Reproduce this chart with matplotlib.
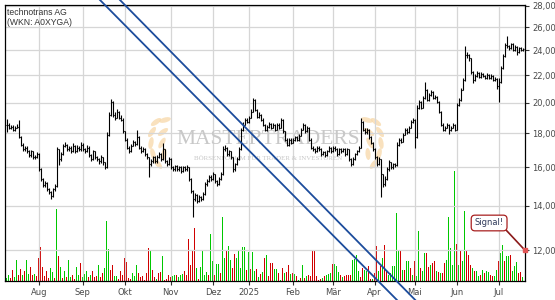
import numpy as np
import pandas as pd
import matplotlib
matplotlib.use("Agg")
import matplotlib.pyplot as plt
from matplotlib.transforms import blended_transform_factory, IdentityTransform
from matplotlib.ticker import NullLocator
from matplotlib.patches import Ellipse

# ---------------- data ----------------
start_date = "2024-07-10"
end_date = "2025-07-17"
holidays = ["2024-12-24", "2024-12-25", "2024-12-26", "2024-12-31",
            "2025-01-01", "2025-04-18", "2025-04-21", "2025-05-01"]

close = [
    18.55, 18.36, 18.42, 18.23, 18.36, 18.42, 17.74, 17.31, 17.02, 17.13,
    16.90, 16.67, 16.90, 16.56, 16.56, 16.73, 15.88, 15.35, 15.03, 15.14,
    14.83, 14.68, 14.48, 14.83, 14.98, 17.02, 16.44, 16.73, 17.25, 17.31,
    17.02, 17.13, 16.90, 17.25, 16.90, 17.13, 17.02, 17.31, 17.02, 16.90,
    17.13, 16.67, 16.44, 16.90, 16.56, 16.44, 16.33, 16.56, 16.27, 15.99,
    17.92, 19.20, 20.08, 19.20, 19.00, 19.40, 19.00, 18.87, 18.11, 17.61,
    17.13, 16.90, 17.25, 17.49, 17.37, 17.74, 17.13, 16.90, 17.02, 16.73,
    16.56, 16.16, 16.33, 16.56, 16.33, 16.56, 16.73, 16.44, 17.02, 16.33,
    16.16, 16.44, 15.99, 15.88, 16.05, 15.88, 15.99, 15.77, 15.99, 15.88,
    15.99, 15.35, 14.73, 14.33, 14.52, 14.23, 14.43, 14.33, 14.57, 15.08,
    15.24, 15.45, 15.35, 15.61, 15.24, 15.08, 15.35, 15.61, 17.02, 17.13,
    16.73, 16.90, 16.56, 15.88, 16.16, 16.44, 17.02, 18.23, 18.55, 18.87,
    18.74, 19.00, 19.40, 20.22, 19.53, 19.07, 19.20, 18.87, 18.55, 18.23,
    18.42, 18.61, 18.36, 18.55, 18.23, 18.55, 18.36, 18.87, 18.11, 17.61,
    17.31, 17.61, 17.43, 17.61, 17.74, 17.61, 17.86, 18.23, 18.55, 18.11,
    18.36, 17.61, 17.13, 17.02, 16.90, 17.13, 17.02, 16.73, 16.84, 16.67,
    16.90, 17.13, 16.90, 17.13, 17.02, 16.73, 17.02, 16.90, 17.02, 16.73,
    17.02, 16.44, 16.16, 16.44, 16.73, 16.90, 17.13, 18.74, 18.23, 18.05,
    18.23, 17.74, 17.43, 17.02, 16.56, 16.16, 16.44, 15.61, 15.08, 15.35,
    15.88, 16.27, 15.99, 16.16, 16.10, 17.31, 17.61, 17.49, 17.92, 18.23,
    18.05, 18.36, 18.74, 18.87, 17.74, 19.67, 20.08, 19.67, 20.36, 20.93,
    20.22, 20.57, 20.79, 20.36, 20.43, 20.08, 19.40, 18.55, 18.23, 18.36,
    18.55, 18.23, 18.36, 18.55, 18.23, 19.87, 20.22, 20.93, 21.66, 23.61,
    23.61, 23.37, 22.27, 21.66, 21.97, 22.19, 21.89, 22.12, 21.97, 21.81,
    22.04, 21.81, 21.97, 21.66, 21.74, 21.22, 21.51, 22.56, 23.53, 24.44,
    24.36, 24.19, 24.52, 24.02, 24.27, 23.86, 24.19, 24.02, 24.10,
]

high = [
    18.90, 18.65, 18.55, 18.50, 18.45, 18.60, 18.87, 17.85, 17.40, 17.25,
    17.20, 16.98, 17.00, 16.95, 16.70, 16.85, 16.80, 15.95, 15.40, 15.25,
    15.20, 14.90, 14.75, 14.90, 15.10, 17.15, 17.05, 16.85, 17.35, 17.45,
    17.35, 17.25, 17.20, 17.40, 17.30, 17.30, 17.20, 17.45, 17.40, 17.10,
    17.30, 17.20, 16.75, 17.00, 16.95, 16.65, 16.50, 16.70, 16.60, 16.30,
    18.10, 19.40, 20.29, 20.15, 19.35, 19.55, 19.45, 19.15, 18.95, 18.15,
    17.70, 17.20, 17.35, 17.60, 17.55, 18.23, 17.80, 17.20, 17.15, 17.10,
    16.80, 16.60, 16.45, 16.65, 16.65, 16.70, 16.85, 16.80, 17.43, 17.05,
    16.40, 16.55, 16.50, 16.05, 16.15, 16.10, 16.08, 16.05, 16.08, 16.05,
    16.10, 16.02, 15.40, 14.80, 14.65, 14.58, 14.55, 14.50, 14.70, 15.20,
    15.35, 15.60, 15.55, 15.75, 15.65, 15.30, 15.45, 15.72, 17.25, 17.30,
    17.18, 17.00, 16.95, 16.60, 16.25, 16.55, 17.15, 18.35, 18.70, 19.00,
    18.95, 19.10, 19.55, 20.36, 20.28, 19.60, 19.35, 19.25, 18.95, 18.60,
    18.55, 18.72, 18.68, 18.65, 18.60, 18.65, 18.62, 19.00, 18.92, 18.15,
    17.68, 17.72, 17.68, 17.72, 17.85, 17.80, 17.95, 18.35, 18.62, 18.60,
    18.45, 18.40, 17.68, 17.22, 17.08, 17.22, 17.20, 17.08, 16.95, 16.92,
    17.00, 17.22, 17.18, 17.22, 17.20, 17.08, 17.10, 17.08, 17.10, 17.08,
    17.12, 17.05, 16.50, 16.55, 16.82, 17.00, 17.25, 19.00, 18.80, 18.30,
    18.35, 18.28, 17.80, 17.48, 17.08, 16.62, 16.55, 16.48, 15.65, 15.50,
    16.00, 16.40, 16.32, 16.25, 16.22, 17.45, 17.72, 17.68, 18.02, 18.32,
    18.30, 18.45, 18.85, 18.98, 18.92, 19.85, 20.22, 20.12, 20.45, 21.51,
    21.00, 20.68, 20.90, 20.85, 20.55, 20.50, 20.12, 19.45, 18.62, 18.45,
    18.65, 18.60, 18.45, 18.65, 18.60, 20.00, 20.35, 21.05, 21.80, 24.36,
    23.85, 23.70, 23.40, 22.35, 22.10, 22.35, 22.25, 22.25, 22.20, 22.05,
    22.15, 22.10, 22.10, 22.02, 21.85, 21.80, 21.81, 22.70, 23.65, 24.60,
    25.20, 24.45, 24.65, 24.58, 24.40, 24.32, 24.30, 24.25, 24.20,
]

low = [
    18.10, 18.25, 18.28, 18.15, 18.15, 18.30, 17.70, 17.25, 16.95, 16.95,
    16.80, 16.60, 16.60, 16.45, 16.45, 16.50, 15.80, 15.25, 14.95, 14.95,
    14.75, 14.60, 14.35, 14.45, 14.75, 14.95, 16.10, 16.35, 16.70, 17.15,
    16.95, 16.95, 16.80, 16.85, 16.80, 16.85, 16.90, 16.95, 16.95, 16.80,
    16.85, 16.60, 16.35, 16.40, 16.45, 16.35, 16.20, 16.25, 16.15, 15.88,
    15.95, 17.85, 19.10, 19.05, 18.85, 18.95, 18.90, 18.75, 18.00, 17.50,
    17.05, 16.80, 16.85, 17.20, 17.25, 17.30, 17.05, 16.80, 16.85, 16.65,
    16.45, 15.45, 16.05, 16.25, 16.25, 16.25, 16.50, 16.35, 16.40, 16.25,
    16.05, 16.10, 15.90, 15.80, 15.82, 15.80, 15.82, 15.70, 15.72, 15.80,
    15.82, 15.25, 14.65, 13.47, 14.25, 14.15, 14.18, 14.25, 14.28, 14.52,
    15.00, 15.18, 15.25, 15.30, 15.15, 14.98, 15.02, 15.30, 15.58, 16.95,
    16.65, 16.65, 16.45, 15.75, 15.82, 16.10, 16.40, 16.98, 18.15, 18.50,
    18.62, 18.68, 18.95, 19.35, 19.45, 18.98, 19.00, 18.78, 18.45, 18.12,
    18.15, 18.35, 18.28, 18.30, 18.15, 18.18, 18.28, 18.30, 18.02, 17.52,
    17.22, 17.25, 17.35, 17.38, 17.55, 17.52, 17.55, 17.80, 18.18, 18.02,
    18.05, 17.52, 17.05, 16.95, 16.82, 16.85, 16.95, 16.65, 16.68, 16.60,
    16.62, 16.85, 16.82, 16.85, 16.95, 16.65, 16.68, 16.82, 16.85, 16.65,
    16.68, 16.35, 16.05, 16.10, 16.38, 16.68, 16.85, 17.10, 18.15, 17.95,
    17.98, 17.65, 17.35, 16.92, 16.45, 16.05, 16.10, 14.43, 14.95, 15.00,
    15.30, 15.82, 15.90, 15.92, 16.02, 16.05, 17.25, 17.40, 17.45, 17.88,
    17.98, 18.00, 18.30, 18.68, 17.10, 17.70, 19.60, 19.58, 19.62, 20.30,
    20.15, 20.15, 20.50, 20.28, 20.30, 20.00, 19.30, 18.45, 18.12, 18.15,
    18.30, 17.95, 18.15, 18.30, 18.15, 18.20, 19.80, 20.15, 20.88, 21.60,
    23.40, 23.10, 22.10, 21.45, 21.58, 21.90, 21.80, 21.82, 21.88, 21.72,
    21.75, 21.72, 21.75, 21.58, 21.60, 21.00, 20.08, 21.45, 22.50, 23.45,
    24.20, 24.05, 24.10, 23.92, 23.95, 23.60, 23.80, 23.92, 23.95,
]

# volume in thousand shares
volume = [
    3, 5.7, 3, 10.7, 4, 20.7, 5.7, 11.7, 5.7, 9.7,
    20.7, 6.7, 13.7, 5.3, 6.7, 4.7, 22.7, 33.7, 13.7, 4.7,
    9.7, 3, 12.7, 8.7, 3, 71.7, 24.7, 13.7, 3, 9.7,
    3.7, 20.7, 4, 5.7, 2, 13.7, 5.7, 17.7, 4, 6.3,
    9.7, 4, 5.7, 9.7, 4, 4.7, 15.7, 3.7, 7.7, 12.7,
    59.7, 31.7, 10.7, 15.7, 4.7, 4.7, 2, 9.7, 5.7, 22.7,
    18.7, 2.3, 1.3, 7.7, 4.7, 15.7, 7.7, 3.7, 4.7, 1,
    7.7, 32.7, 30.7, 10.7, 3.7, 2, 7.7, 8.7, 24.7, 1,
    1.3, 5.7, 4, 4.7, 5.3, 5.3, 4, 5.7, 6.7, 9.7,
    5.7, 41.7, 15.7, 29.7, 52.7, 12.7, 2, 13.7, 29.7, 5.7,
    8.7, 5.7, 46.7, 19.7, 5.7, 16.7, 16.7, 7.7, 63.7, 22.7,
    30.7, 34.7, 20.7, 12.7, 26.7, 22.7, 29.7, 12.7, 33.7, 33.7,
    10.7, 28.7, 11.7, 28.7, 9.7, 11.7, 3.7, 6.7, 8.7, 22.7,
    25.7, 4.7, 17.7, 17.7, 11.7, 11.7, 7.7, 1, 12.7, 7.7,
    8.7, 16, 6.7, 7.7, 6.7, 4.3, 1, 2.7, 15.3, 2.7,
    4.3, 6, 4.3, 29.3, 29.3, 4.3, 1, 2, 2.7, 4.3,
    6, 6.7, 7.7, 16.7, 16.7, 14.3, 8.3, 5.3, 3.3, 4.3,
    6, 6, 5.3, 21, 22, 25.3, 9.3, 3.3, 12.7, 11,
    9.3, 14.3, 2, 2, 7.7, 34.3, 10, 14.3, 22.7, 36,
    9.3, 6, 7.7, 14.3, 14.3, 67.7, 29.3, 29.3, 11, 11,
    20, 20, 12.7, 5.3, 19.3, 4.3, 50, 12.7, 9.3, 27.7,
    27.7, 13.3, 16, 17.7, 20, 9.3, 8.7, 7.7, 7.7, 17.7,
    21, 63.3, 32.7, 16, 110, 36.7, 16, 29.3, 19.3, 69.3,
    29.3, 26, 16, 12.7, 9.3, 9.3, 4.3, 5.3, 11, 7.7,
    9.3, 8.7, 6, 4.3, 4.3, 11, 19.3, 27.7, 36, 20,
    24.3, 24.3, 26, 9.3, 14.3, 18.7, 7.7, 8.3, 3.3,
]

# g = up day, r = down day (volume bar colour)
vol_dir = ("ggrrggrrgr" "ggrrgrrrrr" "rrggrgrgrg" "rggrrggrgg" "grgrrrgrrg"
           "ggrrggrrrr" "rrrgggrrrr" "rrgrrgrrgr" "rrrggrgggr" "rrrrrgrggg"
           "grggrggrgg" "rggrrggggg" "rgrggrgrgr" "grrrggrgrg" "rrgrgrgrgr"
           "grrrrrrrgr" "gggrgggrgr" "rrrggggrrg" "grrgrrgrgr" "rggggggrgr"
           "ggrgrggrgg" "rrgrrgrgrr" "gggggrgrgg" "rrrgrggrgr" "ggrrggrggr"
           "ggrgggrrg")

month_labels = ["Aug", "Sep", "Okt", "Nov", "Dez", "2025",
                "Feb", "Mär", "Apr", "Mai", "Jun", "Jul"]
month_starts = ["2024-08", "2024-09", "2024-10", "2024-11", "2024-12", "2025-01",
                "2025-02", "2025-03", "2025-04", "2025-05", "2025-06", "2025-07"]

price_ticks = [12, 14, 16, 18, 20, 22, 24, 26, 28]
price_labels = ["12,00", "14,00", "16,00", "18,00", "20,00",
                "22,00", "24,00", "26,00", "28,00"]

# trend channel anchors (date, price)
trend_lines = [("2024-09-12", 28.69, "2025-04-17", 10.04),
               ("2024-09-26", 28.69, "2025-05-05", 10.05)]

signal_price = 12.0
title_lines = "technotrans AG\n(WKN: A0XYGA)"

# ---------------- build ----------------
dates = pd.bdate_range(start_date, end_date)
dates = dates[~dates.isin(pd.to_datetime(holidays))]
n = min(len(dates), len(close), len(high), len(low), len(volume), len(vol_dir))
dates = dates[:n]
x = np.arange(n)
c = np.array(close[:n])
h = np.array(high[:n])
l = np.array(low[:n])
o = np.concatenate([[c[0]], c[:-1]])
v = np.array(volume[:n])
vcol = ["#00c800" if d == "g" else "#d00000" for d in vol_dir[:n]]

plt.rcParams['font.family'] = ['DejaVu Sans']
fig = plt.figure(figsize=(5.55, 3.0), dpi=100, facecolor="white")
rect = [5 / 555, 19.3 / 300, 520 / 555, 275.7 / 300]
ax = fig.add_axes(rect)
axv = ax.twinx()
ax.set_zorder(axv.get_zorder() + 1)
ax.patch.set_visible(False)

# volume
axv.bar(x, v, width=0.6, color=vcol, linewidth=0)
axv.set_ylim(0, 275.7)
axv.set_yticks([])
for s in axv.spines.values():
    s.set_visible(False)

# price
ax.set_yscale("log")
ax.set_ylim(10.80, 28.07)
ax.set_xlim(-0.85, 259.15)
ax.yaxis.tick_right()
ax.set_yticks(price_ticks, price_labels)
ax.yaxis.set_minor_locator(NullLocator())

month_idx = []
for ms in month_starts:
    m = np.where(dates.strftime("%Y-%m") == ms)[0]
    month_idx.append(int(m[0]))
ax.set_xticks(month_idx, month_labels)

ax.grid(True, color="#d6d6d6", lw=0.9, zorder=0)
ax.set_axisbelow(True)
ax.tick_params(axis="x", length=3, width=0.8, color="#333333",
               labelsize=6, labelcolor="#4a4a4a", pad=2)
ax.tick_params(axis="y", length=3, width=0.8, color="#333333",
               labelsize=6, labelcolor="#4a4a4a", pad=2)
for s in ax.spines.values():
    s.set_color("black")
    s.set_linewidth(0.9)

ax.vlines(x, l, h, color="black", lw=0.8, zorder=3)
ax.hlines(o, x - 0.5, x, color="black", lw=0.8, zorder=3)
ax.hlines(c, x, x + 0.5, color="black", lw=0.8, zorder=3)

# trend channel
for d1, p1, d2, p2 in trend_lines:
    i1 = dates.get_loc(pd.Timestamp(d1))
    i2 = dates.get_loc(pd.Timestamp(d2))
    ax.plot([i1, i2], [p1, p2], color="#1c4c9c", lw=1.3, clip_on=False,
            zorder=6, solid_capstyle="butt")

# watermark (logo text and wheat ornament)
ax.text(0.506, 0.512, "MASTERTRADERS", transform=ax.transAxes, ha="center",
        va="center", fontsize=15.5, family="Liberation Serif", color="#c8c8c8",
        zorder=1)
ax.text(0.506, 0.443, "BÖRSENFORUM FÜR TRADER & INVESTOREN", transform=ax.transAxes,
        ha="center", va="center", fontsize=5, family="Liberation Serif",
        color="#c8c8c8", zorder=1)
leaf_specs = [(-6, 20, 35), (-10, 10, 55), (-11, -1, 80), (-9, -12, 105),
              (-4, -22, 130), (3, 22, 15), (1, 10, 35), (0, -1, 60), (2, -12, 85)]
for cx_, cy_ in [(162, 142), (370, 142)]:
    side = 1 if cx_ < 270 else -1
    for dx, dy, ang in leaf_specs:
        e = Ellipse((cx_ + side * dx, 300 - (cy_ - dy)), 5, 12,
                    angle=side * (ang - 90), transform=IdentityTransform(),
                    facecolor="#f7d8a8", edgecolor="none", alpha=0.75, zorder=1)
        fig.add_artist(e)

# title
ax.text(0.004, 0.990, title_lines, transform=ax.transAxes, ha="left", va="top",
        fontsize=6.2, family="Liberation Sans", color="#333333",
        linespacing=1.2, zorder=7)

# signal
bt = blended_transform_factory(ax.transAxes, ax.transData)
ax.annotate("Signal!", xy=(1.0, signal_price), xycoords=bt,
            xytext=(0.931, 13.19), textcoords=bt, ha="center", va="center",
            fontsize=6, color="#2f3a5a", zorder=8, annotation_clip=False,
            bbox=dict(boxstyle="round,pad=0.4,rounding_size=0.45", fc="white",
                      ec="#a82020", lw=0.9),
            arrowprops=dict(arrowstyle="-", color="#8b1a1a", lw=1.2,
                            shrinkA=0, shrinkB=0, relpos=(1.0, 0.0)))
ax.plot([1.0], [signal_price], marker="s", ms=3.5, color="#e05555",
        transform=bt, clip_on=False, zorder=9, mec="#e05555")

fig.savefig("out.png", dpi=100, facecolor="white")
